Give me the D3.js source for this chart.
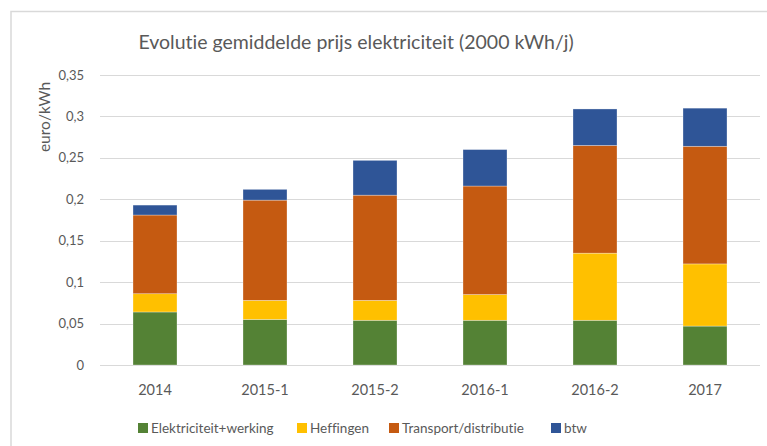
<!DOCTYPE html>
<html>
<head>
<meta charset="utf-8">
<script src="https://cdn.jsdelivr.net/npm/d3@7"></script>
<style>
  body { margin: 0; background: #fff; }
  svg { display: block; font-family: Lato, "Open Sans", sans-serif; font-variant-ligatures: none; }
</style>
</head>
<body>
<div class="chart"></div>
<script>
// values (euro/kWh)
const periods = ['2014', '2015-1', '2015-2', '2016-1', '2016-2', '2017'];
const elektriciteit = [0.064, 0.055, 0.054, 0.054, 0.054, 0.047];
const heffingen = [0.022, 0.023, 0.024, 0.031, 0.081, 0.075];
const transport = [0.095, 0.121, 0.127, 0.131, 0.130, 0.142];
const btw = [0.012, 0.013, 0.042, 0.044, 0.044, 0.046];
const seriesNames = ['Elektriciteit+werking', 'Heffingen', 'Transport/distributie', 'btw'];
const seriesColors = ['#548235', '#FFC000', '#C55A11', '#2F5597'];
const yTicks = [0, 0.05, 0.1, 0.15, 0.2, 0.25, 0.3, 0.35];

const width = 767, height = 446;
const margin = {left: 100, right: 7, top: 75, bottom: 81};

const rows = periods.map((p, i) => ({
    period: p,
    'Elektriciteit+werking': elektriciteit[i],
    'Heffingen': heffingen[i],
    'Transport/distributie': transport[i],
    'btw': btw[i]
}));

const svg = d3.select('.chart').append('svg')
    .attr('width', width).attr('height', height);

// chart frame (only left/top visible in the crop)
svg.append('rect')
    .attr('x', 11).attr('y', 11.5)
    .attr('width', width + 20).attr('height', height + 20)
    .attr('fill', 'none').attr('stroke', '#d9d9d9').attr('stroke-width', 1.5);

const x = d3.scaleBand()
    .domain(periods)
    .range([margin.left, width - margin.right])
    .paddingInner(0.6).paddingOuter(0.3);

const y = d3.scaleLinear()
    .domain([0, 0.35])
    .range([height - margin.bottom, margin.top]);

// gridlines
svg.append('g')
    .selectAll('line')
    .data(yTicks)
    .join('line')
    .attr('x1', margin.left).attr('x2', width - margin.right)
    .attr('y1', d => Math.round(y(d)) + 0.5).attr('y2', d => Math.round(y(d)) + 0.5)
    .attr('stroke', '#d9d9d9').attr('stroke-width', 1);

// y axis labels
const fmt = d => String(d).replace('.', ',');
svg.append('g')
    .selectAll('text')
    .data(yTicks)
    .join('text')
    .attr('x', 84)
    .attr('y', d => y(d))
    .attr('dy', '0.35em')
    .attr('text-anchor', 'end')
    .attr('font-size', 13)
    .attr('fill', '#595959')
    .text(fmt);

svg.append('text')
    .attr('transform', 'translate(45,117) rotate(-90)')
    .attr('text-anchor', 'middle')
    .attr('dy', '0.35em')
    .attr('font-size', 15.5)
    .attr('fill', '#595959')
    .text('euro/kWh');

// stacked bars
const stack = d3.stack().keys(seriesNames);
const layers = stack(rows);
const color = d3.scaleOrdinal().domain(seriesNames).range(seriesColors);

svg.append('g')
    .selectAll('g')
    .data(layers)
    .join('g')
    .attr('fill', d => color(d.key))
    .selectAll('rect')
    .data(d => d)
    .join('rect')
    .attr('x', d => x(d.data.period))
    .attr('width', x.bandwidth())
    .attr('y', d => y(d[1]))
    .attr('height', d => y(d[0]) - y(d[1]))
    .attr('stroke', '#fff').attr('stroke-opacity', 0.5).attr('stroke-width', 0.6);

// x labels
svg.append('g')
    .selectAll('text')
    .data(periods)
    .join('text')
    .attr('x', d => x(d) + x.bandwidth() / 2)
    .attr('y', 390)
    .attr('dy', '0.35em')
    .attr('text-anchor', 'middle')
    .attr('font-size', 14.5)
    .attr('fill', '#595959')
    .text(d => d);

// title
svg.append('text')
    .attr('x', 356).attr('y', 49)
    .attr('text-anchor', 'middle')
    .attr('font-size', 19.5)
    .attr('fill', '#595959')
    .text('Evolutie gemiddelde prijs elektriciteit  (2000 kWh/j)');

// legend
const legendX = [138, 297, 389, 551];
const legend = svg.append('g')
    .selectAll('g')
    .data(seriesNames)
    .join('g')
    .attr('transform', (d, i) => 'translate(' + legendX[i] + ',428)');
legend.append('rect')
    .attr('x', 0).attr('y', -5)
    .attr('width', 10).attr('height', 10)
    .attr('fill', d => color(d));
legend.append('text')
    .attr('x', 13)
    .attr('dy', '0.35em')
    .attr('font-size', 13.5)
    .attr('fill', '#595959')
    .text(d => d);
</script>
</body>
</html>
